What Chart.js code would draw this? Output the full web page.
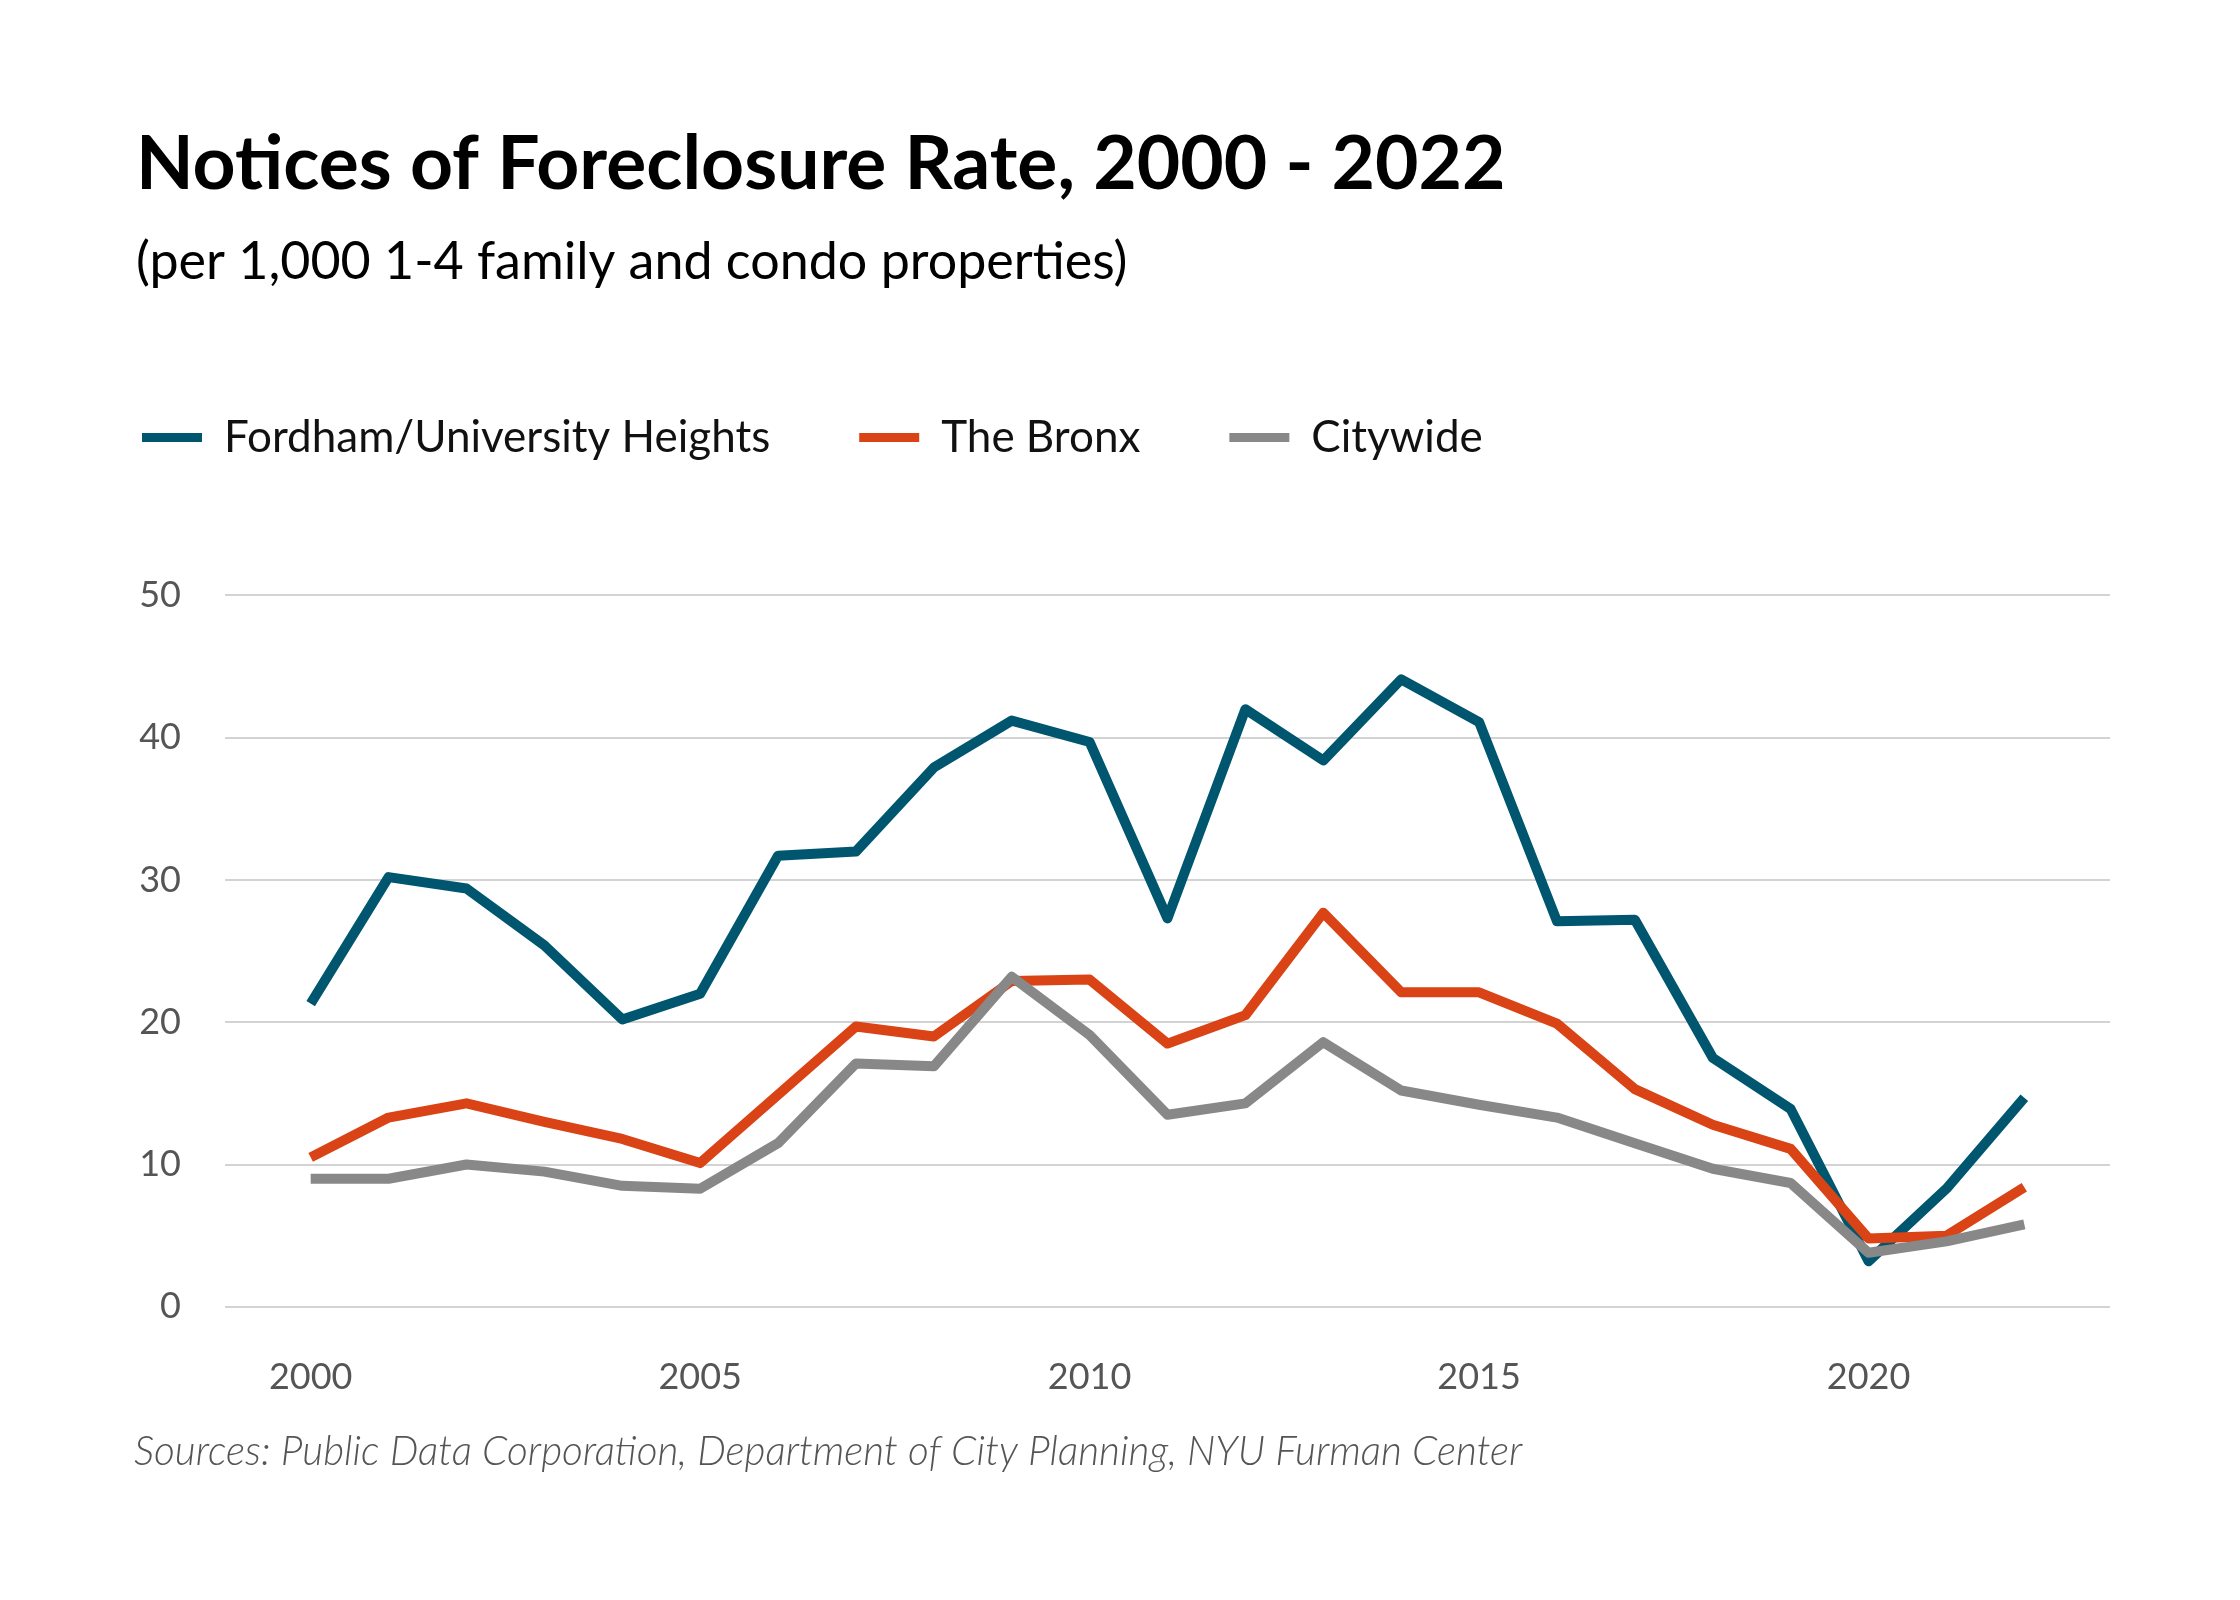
<!DOCTYPE html>
<html lang="en">
<head>
    <meta charset="UTF-8">
    <title>Notices of Foreclosure Rate, 2000 - 2022</title>
    <script src="https://cdn.jsdelivr.net/npm/chart.js"></script>
    <style>
        body { margin: 0; background: #fff; }
    </style>
</head>
<body>
    <canvas id="grafica" width="2240" height="1600"></canvas>

    <script>
        // data
        var years = [2000, 2001, 2002, 2003, 2004, 2005, 2006, 2007, 2008, 2009, 2010, 2011,
                     2012, 2013, 2014, 2015, 2016, 2017, 2018, 2019, 2020, 2021, 2022];
        var fordham = [21.3, 30.2, 29.4, 25.4, 20.2, 22.0, 31.7, 32.0, 37.9, 41.2, 39.7, 27.3,
                       42.0, 38.4, 44.1, 41.1, 27.1, 27.2, 17.5, 13.9, 3.2, 8.3, 14.7];
        var bronx = [10.5, 13.3, 14.3, 13.0, 11.8, 10.1, 14.9, 19.7, 19.0, 22.9, 23.0, 18.5,
                     20.5, 27.7, 22.1, 22.1, 19.9, 15.3, 12.8, 11.1, 4.8, 5.0, 8.4];
        var citywide = [9.0, 9.0, 10.0, 9.5, 8.5, 8.3, 11.5, 17.1, 16.9, 23.2, 19.1, 13.5,
                        14.3, 18.6, 15.2, 14.2, 13.3, 11.5, 9.7, 8.7, 3.8, 4.6, 5.8];
        var seriesNames = ['Fordham/University Heights', 'The Bronx', 'Citywide'];
        var xTicks = [2000, 2005, 2010, 2015, 2020];
        var yTicks = [0, 10, 20, 30, 40, 50];
        var sourceText = 'Sources: Public Data Corporation, Department of City Planning, NYU Furman Center';

        var colors = ['#00566e', '#d94315', '#888888'];
        var legendPad = 89;
        var legendGap = 126;

        function toPoints(values) {
            return values.map(function (v, i) { return { x: years[i], y: v }; });
        }

        function serie(i, values, order) {
            return {
                label: seriesNames[i],
                data: toPoints(values),
                borderColor: colors[i],
                backgroundColor: colors[i],
                borderWidth: 10,
                borderJoinStyle: 'round',
                pointRadius: 0,
                pointHoverRadius: 0,
                tension: 0,
                order: order
            };
        }

        // legend spacing tweaks + source line
        var ajustes = {
            id: 'ajustes',
            afterInit: function (chart) {
                var lg = chart.legend;
                if (!lg || lg._patched) return;
                var fit = lg.fit;
                lg.fit = function () {
                    fit.call(this);
                    this.height += legendGap;
                };
                lg._patched = true;
            },
            afterLayout: function (chart) {
                chart.legend.left -= legendPad - 6;
            },
            afterDraw: function (chart) {
                var ctx = chart.ctx;
                ctx.save();
                ctx.font = 'italic 300 40.5px Lato';
                ctx.fillStyle = '#555';
                ctx.textBaseline = 'middle';
                ctx.textAlign = 'left';
                ctx.fillText(sourceText, 134, chart.chartArea.bottom + 145);
                ctx.restore();
            }
        };

        Chart.defaults.font.family = 'Lato';

        var ctx = document.getElementById('grafica').getContext('2d');
        var grafica = new Chart(ctx, {
            type: 'line',
            plugins: [ajustes],
            data: {
                datasets: [
                    serie(0, fordham, 3),
                    serie(1, bronx, 2),
                    serie(2, citywide, 1)
                ]
            },
            options: {
                responsive: false,
                devicePixelRatio: 1,
                animation: false,
                layout: {
                    padding: { left: 136, right: 130, top: 0, bottom: 152 }
                },
                plugins: {
                    title: {
                        display: true,
                        align: 'start',
                        text: 'Notices of Foreclosure Rate, 2000 - 2022',
                        color: '#000',
                        font: { size: 75, weight: 'bold', lineHeight: 1.2 },
                        padding: { top: 120, bottom: 21 }
                    },
                    subtitle: {
                        display: true,
                        align: 'start',
                        text: '(per 1,000 1-4 family and condo properties)',
                        color: '#000',
                        font: { size: 52, weight: 'normal', lineHeight: 1.2 },
                        padding: { top: 0, bottom: 33 }
                    },
                    legend: {
                        display: true,
                        position: 'top',
                        align: 'start',
                        labels: {
                            boxWidth: 60,
                            boxHeight: 9,
                            padding: legendPad,
                            color: '#111',
                            font: { size: 44 },
                            generateLabels: function (chart) {
                                return chart.data.datasets.map(function (ds, i) {
                                    return {
                                        text: ds.label,
                                        fillStyle: ds.borderColor,
                                        strokeStyle: ds.borderColor,
                                        lineWidth: 0,
                                        hidden: false,
                                        datasetIndex: i,
                                        fontColor: '#111'
                                    };
                                });
                            }
                        }
                    },
                    tooltip: { enabled: false }
                },
                scales: {
                    x: {
                        type: 'linear',
                        min: 1998.9,
                        max: 2023.1,
                        grid: { display: false, drawTicks: false },
                        border: { display: false },
                        afterBuildTicks: function (scale) {
                            scale.ticks = xTicks.map(function (v) { return { value: v }; });
                        },
                        ticks: {
                            padding: 49,
                            color: '#555',
                            font: { size: 36 },
                            maxRotation: 0,
                            callback: function (v) { return String(v); }
                        }
                    },
                    y: {
                        min: 0,
                        max: 50,
                        grid: { color: '#d3d3d3', lineWidth: 2, drawTicks: false },
                        border: { display: false },
                        afterBuildTicks: function (scale) {
                            scale.ticks = yTicks.map(function (v) { return { value: v }; });
                        },
                        afterFit: function (scale) {
                            scale.width = 89;
                        },
                        ticks: {
                            padding: 44,
                            color: '#555',
                            font: { size: 36 },
                            callback: function (v) { return String(v); }
                        }
                    }
                }
            }
        });
    </script>
</body>
</html>
